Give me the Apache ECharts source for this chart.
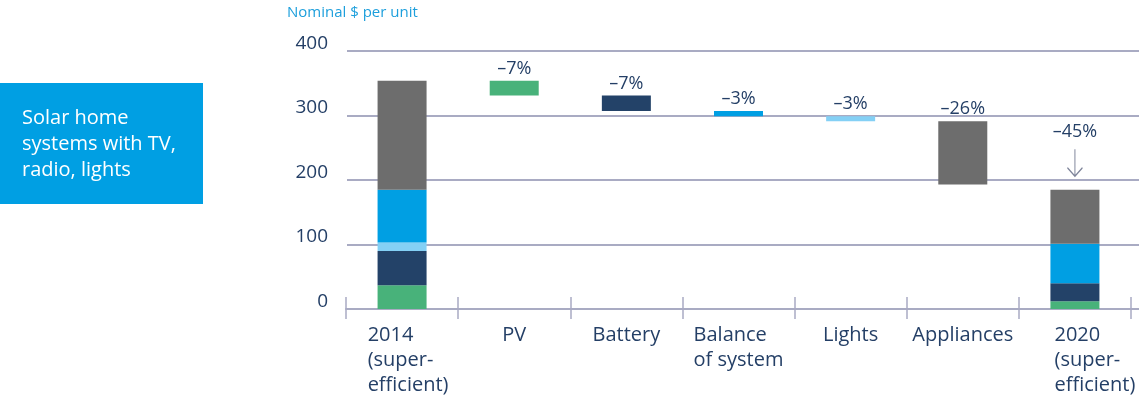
<!DOCTYPE html>
<html><head><meta charset="utf-8">
<script src="https://cdn.jsdelivr.net/npm/echarts@6/dist/echarts.min.js"></script>
<style>html,body{margin:0;padding:0;background:#fff}#c{width:1139px;height:405px}</style>
</head><body><div id="c"></div>
<script>
// ---- data ----
const categories = ['2014\n(super-\nefficient)', 'PV', 'Battery', 'Balance\nof system', 'Lights', 'Appliances', '2020\n(super-\nefficient)'];
const green     = [37, 23, '-', '-', '-', '-', 12];
const navy      = [53, '-', 24, '-', '-', '-', 28];
const lightBlue = [13, '-', '-', '-', 8, '-', '-'];
const blue      = [82, '-', '-', 8, '-', '-', 61];
const grey      = [169, '-', '-', '-', '-', 98, 84];
const changeLabels = ['', '–7%', '–7%', '–3%', '–3%', '–26%', '–45%'];
const yTickValues = [0, 100, 200, 300, 400];
const totalIdx = [0, 6];

// ---- derived waterfall base ----
const segs = [green, navy, lightBlue, blue, grey];
const num = v => (v === '-' ? 0 : v);
const base = [];
const tops = [];
let running = 0;
categories.forEach((c, i) => {
  const d = segs.reduce((s, a) => s + num(a[i]), 0);
  if (totalIdx.includes(i)) { base.push(0); running = d; }
  else { running -= d; base.push(running); }
  tops.push(base[i] + d);
});

const NAVY_TXT = '#243f66';
const AXIS = '#a9abc3';
const FONT = 'Open Sans';
const colors = ['#48b27a', '#234268', '#84d0f5', '#009fe3', '#6d6d6d'];

const chart = echarts.init(document.getElementById('c'), null, {renderer: 'canvas'});
const labelPad = [12, 0, 0, 0, 0, 0, 40];

chart.setOption({
  animation: false,
  backgroundColor: '#fff',
  textStyle: {fontFamily: FONT},
  title: {
    text: 'Nominal $ per unit', left: 282, top: 0,
    textStyle: {fontFamily: FONT, fontSize: 15, fontWeight: 'normal', color: '#1d9fdc'}
  },
  graphic: [
    {type: 'rect', left: 0, top: 83, shape: {width: 203, height: 121}, style: {fill: '#009fe3'}, silent: true},
    {type: 'text', x: 22, y: 105, silent: true,
     style: {text: 'Solar home\nsystems with TV,\nradio, lights', fill: '#fff', font: '20px "Open Sans"', lineHeight: 26, verticalAlign: 'top'}}
  ],
  grid: [
    {left: 346, right: 8, top: 51, bottom: 96, containLabel: false},
    {left: 347, right: 0, top: 51, bottom: 96, containLabel: false}
  ],
  xAxis: [
    {
      type: 'category', gridIndex: 0, data: categories, position: 'bottom',
      axisLine: {show: true, lineStyle: {color: AXIS, width: 2}},
      axisTick: {show: true, interval: 0, length: 10, lineStyle: {color: AXIS, width: 1.5}},
      axisLabel: {
        interval: 0, margin: 14, color: NAVY_TXT, fontSize: 20, fontFamily: FONT, hideOverlap: false,
        formatter: (v, i) => v.split('\n').map(l => '{l' + i + '|' + l + '}').join('\n'),
        rich: Object.fromEntries(categories.map((c, i) => ['l' + i, {
          align: 'left', fontSize: 20, fontFamily: FONT, color: NAVY_TXT, lineHeight: 25,
          padding: [0, 0, 0, labelPad[i]]
        }]))
      },
      splitLine: {show: false}
    },
    {
      type: 'category', gridIndex: 0, data: categories, position: 'bottom', offset: 0,
      axisLine: {show: false},
      axisTick: {show: true, inside: true, interval: 0, length: 12, lineStyle: {color: AXIS, width: 1.5}},
      axisLabel: {show: false}, splitLine: {show: false}
    },
    {type: 'value', gridIndex: 1, min: 0, max: 1, show: false}
  ],
  yAxis: [
    {
      type: 'value', gridIndex: 0, min: yTickValues[0], max: yTickValues[yTickValues.length - 1], interval: 100,
      axisLine: {show: false}, axisTick: {show: false}, splitLine: {show: false},
      axisLabel: {color: NAVY_TXT, fontSize: 19, fontFamily: FONT, margin: 18, verticalAlign: 'bottom', lineHeight: 15}
    },
    {
      type: 'value', gridIndex: 1, min: yTickValues[0], max: yTickValues[yTickValues.length - 1], interval: 100,
      axisLine: {show: false}, axisTick: {show: false}, axisLabel: {show: false},
      splitLine: {show: true, lineStyle: {color: AXIS, width: 2}}
    }
  ],
  series: [
    {type: 'bar', name: 'base', stack: 'w', barWidth: 49, data: base, silent: true,
     itemStyle: {color: 'transparent'}, z: 3},
    ...segs.map((arr, k) => ({
      type: 'bar', stack: 'w', barWidth: 49, data: arr, itemStyle: {color: colors[k]}, z: 3
    })),
    {type: 'bar', name: 'labels', stack: 'w', barWidth: 49, data: categories.map(() => 0),
     itemStyle: {color: 'transparent'}, z: 4,
     label: {show: true, position: 'top', distance: 3, color: NAVY_TXT, fontSize: 18, fontFamily: FONT,
       formatter: p => changeLabels[p.dataIndex]},
     labelLayout: p => (p.dataIndex === 6 ? {dy: -46} : {}),
     markPoint: {
       silent: true,
       data: [{
         coord: [categories[6], tops[6]],
         symbol: 'path://M8,0L8,26M1,18L8,26L15,18',
         symbolSize: [15, 27], symbolOffset: [0, -27],
         itemStyle: {color: 'transparent', borderColor: '#7e849a', borderWidth: 1.3},
         label: {show: false}
       }]
     }
    }
  ]
});
</script></body></html>
